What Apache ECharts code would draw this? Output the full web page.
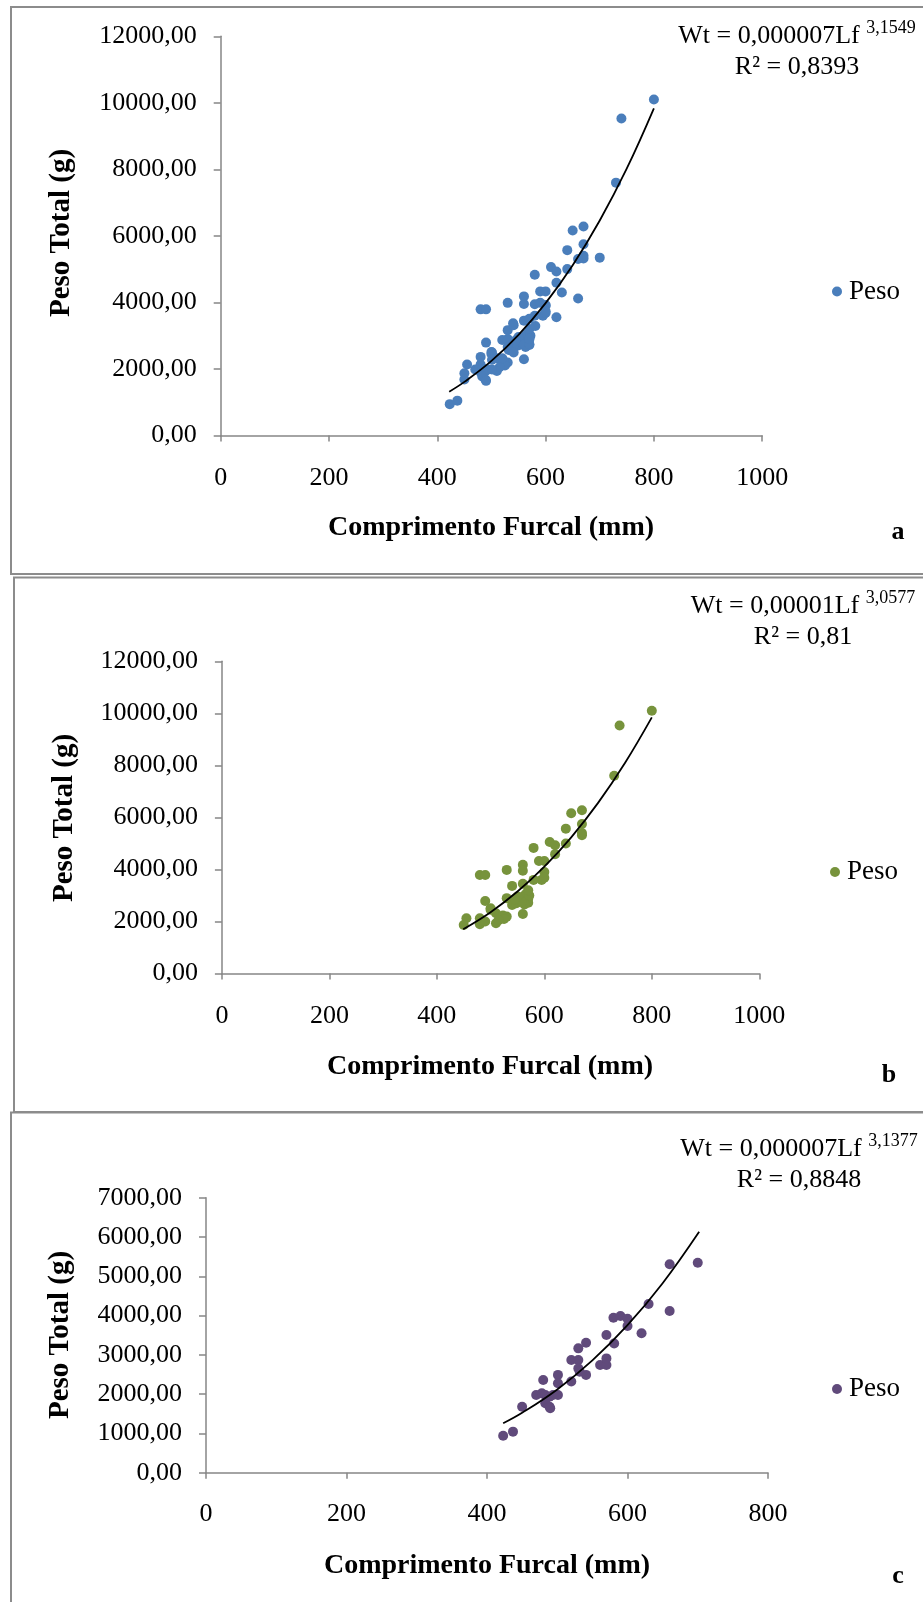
<!DOCTYPE html>
<html>
<head>
<meta charset="utf-8">
<script src="https://cdn.jsdelivr.net/npm/echarts@6/dist/echarts.min.js"></script>
<style>
html,body{margin:0;padding:0;background:#fff;}
#chart{width:923px;height:1602px;}
</style>
</head>
<body>
<div id="chart"></div>
<script>
// ---------- data ----------
const xTickLabelsAB = ['0','200','400','600','800','1000'];
const yTickLabelsAB = ['0,00','2000,00','4000,00','6000,00','8000,00','10000,00','12000,00'];
const xTickLabelsC = ['0','200','400','600','800'];
const yTickLabelsC = ['0,00','1000,00','2000,00','3000,00','4000,00','5000,00','6000,00','7000,00'];

// group shown in panel b (Comprimento Furcal mm, Peso Total g)
const pesoB = [
  [800,10100],[740,9530],[730,7600],
  [670,6280],[650,6160],[670,5750],[640,5570],[670,5400],[670,5320],
  [640,5000],[610,5060],[620,4930],[620,4590],[580,4830],
  [590,4330],[600,4330],[560,4180],[560,3950],[600,3900],[530,3985],
  [480,3790],[490,3790],
  [595,3600],[580,3600],[600,3680],
  [540,3370],[560,3450],
  [530,2900],[490,2790],[540,2640],[548,2700],[555,2820],[560,2950],[565,3050],
  [570,2880],[570,2720],[572,3000],[563,2660],[558,2760],[550,2960],[545,2860],[570,3200],
  [500,2510],[510,2320],[530,2190],[520,2130],[560,2290],
  [455,2130],[450,1870],[480,2130],[480,1900],[490,2000],[510,1935],[500,2450],
  [523,2230],[525,2100],[515,2050]
];
// group shown in panel c
const pesoC = [
  [423,940],[437,1045],[450,1680],[480,2360],[470,1980],[478,2020],[483,1980],
  [489,1935],[494,1980],[501,1980],[483,1770],[489,1680],[490,1640],
  [501,2490],[501,2275],[520,2320],[520,2870],[530,2870],[530,3165],[541,3310],
  [530,2655],[532,2570],[541,2490],[561,2740],[570,2740],[570,2910],[570,3505],
  [581,3290],[580,3945],[590,3990],[600,3920],[600,3735],[620,3550],[630,4295],
  [660,4115],[660,5305],[700,5345]
];
// panel a shows both groups together
const pesoA = pesoB.concat(pesoC);

// power trend lines as drawn in each panel
const trendA = [[422,1314],[450,1609],[500,2241],[550,3024],[600,3977],[650,5116],[700,6460],[750,8027],[800,9835]];
const trendB = [[449,1704],[500,2360],[550,3153],[600,4107],[650,5237],[700,6560],[750,8091],[800,9844]];
const trendC = [[423,1257],[450,1524],[500,2120],[550,2858],[600,3754],[650,4824],[702,6134]];

const eqA = ['Wt = 0,000007Lf ', '3,1549', 'R² = 0,8393'];
const eqB = ['Wt = 0,00001Lf ', '3,0577', 'R² = 0,81'];
const eqC = ['Wt = 0,000007Lf ', '3,1377', 'R² = 0,8848'];

const xTitle = 'Comprimento Furcal (mm)';
const yTitle = 'Peso Total (g)';
const legendName = 'Peso';

// ---------- styling ----------
const FONT = "'Liberation Serif','Times New Roman',serif";
const AXIS_COLOR = '#868686';
const BORDER = '#8c8c8c';
const colA = '#4A7EBB', colB = '#77933C', colC = '#604A7B';

function xAxisCfg(grid, max, labels, margin){
  return {
    type:'value', gridIndex:grid, min:0, max:max, interval:200,
    axisLine:{show:true, onZero:false, lineStyle:{color:AXIS_COLOR, width:1.5}},
    axisTick:{show:true, length:6, lineStyle:{color:AXIS_COLOR, width:1.5}},
    splitLine:{show:false},
    axisLabel:{show:true, margin:margin, color:'#000', fontSize:26, fontFamily:FONT,
      formatter:(v,i)=>labels[i]}
  };
}
function yAxisCfg(grid, max, interval, labels){
  return {
    type:'value', gridIndex:grid, min:0, max:max, interval:interval,
    axisLine:{show:true, onZero:false, lineStyle:{color:AXIS_COLOR, width:1.5}},
    axisTick:{show:true, length:7, lineStyle:{color:AXIS_COLOR, width:1.5}},
    splitLine:{show:false},
    axisLabel:{show:true, margin:24, color:'#000', fontSize:26, fontFamily:FONT,
      formatter:(v,i)=>labels[i]}
  };
}
function scatter(name, idx, data, color){
  return {name:name, type:'scatter', xAxisIndex:idx, yAxisIndex:idx, data:data,
    symbol:'circle', symbolSize:10, itemStyle:{color:color, opacity:1}, z:2, silent:true};
}
function trend(idx, data){
  return {name:'trend'+idx, type:'line', xAxisIndex:idx, yAxisIndex:idx, data:data,
    smooth:0.4, showSymbol:false, symbol:'none', lineStyle:{color:'#000', width:1.8}, z:3, silent:true};
}
function legendCfg(name, left, top){
  return {data:[name], left:left, top:top, orient:'vertical', icon:'circle',
    itemWidth:14, itemHeight:10, selectedMode:false, padding:0,
    formatter:()=>legendName,
    textStyle:{fontSize:27, fontFamily:FONT, color:'#000'}};
}
function txt(x, y, text, opts){
  opts = opts || {};
  return {type:'text', x:x, y:y, rotation:opts.rot||0, z:10, silent:true,
    style:{text:text, fill:'#000',
      font:(opts.bold?'bold ':'')+(opts.size||26)+'px '+FONT,
      textAlign:opts.align||'center', textVerticalAlign:'middle',
      align:opts.align||'center', verticalAlign:'middle'}};
}
function eq(x, y1, y2, e){
  return [
    {type:'text', x:x, y:y1, z:10, silent:true,
      style:{text:'{m|'+e[0]+'}{s|'+e[1]+'}', fill:'#000',
        textAlign:'center', textVerticalAlign:'middle', align:'center', verticalAlign:'middle',
        rich:{m:{fontSize:26, fontFamily:FONT, color:'#000', lineHeight:30, verticalAlign:'bottom'},
              s:{fontSize:18, fontFamily:FONT, color:'#000', lineHeight:30, verticalAlign:'top'}}}},
    txt(x, y2, e[2])
  ];
}
function frame(x, y, w, h){
  return {type:'rect', shape:{x:x, y:y, width:w, height:h}, z:1, silent:true,
    style:{fill:'none', stroke:BORDER, lineWidth:2}};
}

const chart = echarts.init(document.getElementById('chart'), null, {renderer:'canvas'});
chart.setOption({
  backgroundColor:'#fff',
  animation:false,
  grid:[
    {left:220.7, top:36.3, width:541.5, height:399.1, containLabel:false, outerBoundsMode:'none'},
    {left:221.9, top:661.3, width:537.4, height:312.3, containLabel:false, outerBoundsMode:'none'},
    {left:206, top:1197.7, width:562, height:275, containLabel:false, outerBoundsMode:'none'}
  ],
  xAxis:[xAxisCfg(0,1000,xTickLabelsAB,30), xAxisCfg(1,1000,xTickLabelsAB,30), xAxisCfg(2,800,xTickLabelsC,28)],
  yAxis:[yAxisCfg(0,12000,2000,yTickLabelsAB), yAxisCfg(1,12000,2000,yTickLabelsAB), yAxisCfg(2,7000,1000,yTickLabelsC)],
  legend:[legendCfg('Peso a',832,278), legendCfg('Peso b',830,858.5), legendCfg('Peso c',832,1375.5)],
  series:[
    scatter('Peso a',0,pesoA,colA), trend(0,trendA),
    scatter('Peso b',1,pesoB,colB), trend(1,trendB),
    scatter('Peso c',2,pesoC,colC), trend(2,trendC)
  ],
  graphic:{elements:[
    frame(11,7,1000,567),
    frame(14,577.5,1000,534.5),
    frame(11,1112.5,1000,600),
    ...eq(797,34,67.5,eqA),
    ...eq(803,604,637,eqB),
    ...eq(799,1147,1180.5,eqC),
    txt(491,528,xTitle,{bold:true, size:28}),
    txt(490,1067,xTitle,{bold:true, size:28}),
    txt(487,1566,xTitle,{bold:true, size:28}),
    txt(62,233,yTitle,{bold:true, size:29, rot:Math.PI/2}),
    txt(65,818,yTitle,{bold:true, size:29, rot:Math.PI/2}),
    txt(61,1335,yTitle,{bold:true, size:29, rot:Math.PI/2}),
    txt(898,532,'a',{bold:true}),
    txt(889,1075,'b',{bold:true}),
    txt(898,1576,'c',{bold:true})
  ]}
});
</script>
</body>
</html>
